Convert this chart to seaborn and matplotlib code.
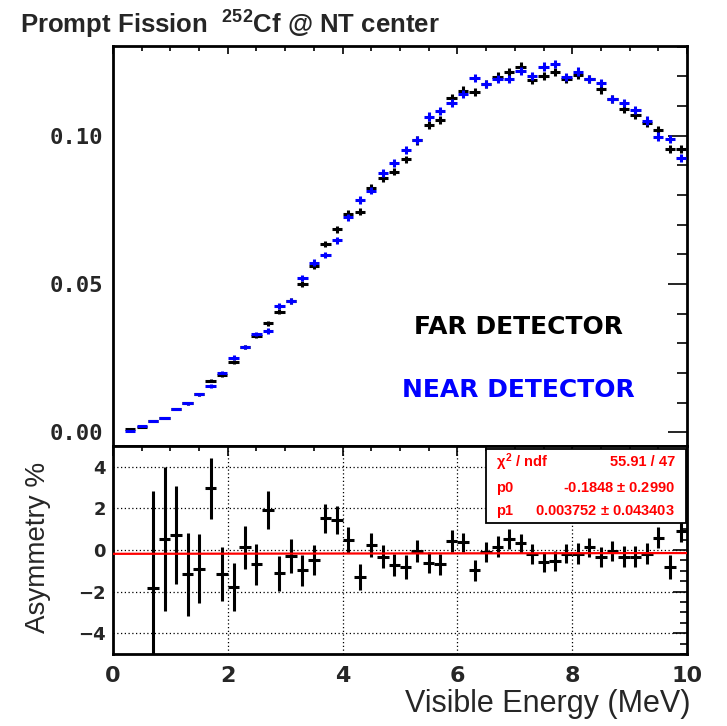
import numpy as np
import matplotlib
matplotlib.use("Agg")
import matplotlib.pyplot as plt
from matplotlib.ticker import MultipleLocator
import seaborn as sns

# ---- data -------------------------------------------------------------
energy = [0.3, 0.5, 0.7, 0.9, 1.1, 1.3, 1.5, 1.7, 1.9, 2.1,
          2.3, 2.5, 2.7, 2.9, 3.1, 3.3, 3.5, 3.7, 3.9, 4.1,
          4.3, 4.5, 4.7, 4.9, 5.1, 5.3, 5.5, 5.7, 5.9, 6.1,
          6.3, 6.5, 6.7, 6.9, 7.1, 7.3, 7.5, 7.7, 7.9, 8.1,
          8.3, 8.5, 8.7, 8.9, 9.1, 9.3, 9.5, 9.7, 9.9]

far_det = [0.0010, 0.0017, 0.0039, 0.0047, 0.0078, 0.0098, 0.0129, 0.0174, 0.0194, 0.0236,
           0.0288, 0.0325, 0.0367, 0.0407, 0.0444, 0.0500, 0.0562, 0.0634, 0.0685, 0.0737,
           0.0744, 0.0824, 0.0858, 0.0879, 0.0920, 0.0984, 0.1036, 0.1053, 0.1126, 0.1152,
           0.1146, 0.1174, 0.1199, 0.1214, 0.1233, 0.1188, 0.1202, 0.1214, 0.1190, 0.1205,
           0.1190, 0.1156, 0.1123, 0.1089, 0.1070, 0.1042, 0.1019, 0.0954, 0.0955]

near_det = [0.0005, 0.0022, 0.0039, 0.0047, 0.0078, 0.0098, 0.0129, 0.0156, 0.0201, 0.0252,
            0.0288, 0.0331, 0.0342, 0.0426, 0.0444, 0.0521, 0.0572, 0.0598, 0.0647, 0.0725,
            0.0783, 0.0815, 0.0873, 0.0908, 0.0952, 0.0986, 0.1064, 0.1083, 0.1109, 0.1140,
            0.1194, 0.1174, 0.1191, 0.1191, 0.1218, 0.1201, 0.1233, 0.1242, 0.1197, 0.1216,
            0.1190, 0.1177, 0.1123, 0.1111, 0.1087, 0.1051, 0.0997, 0.0988, 0.0924]

spec_err = [0.0001, 0.0002, 0.0003, 0.0003, 0.0004, 0.0005, 0.0005, 0.0006, 0.0006, 0.0007,
            0.0008, 0.0008, 0.0009, 0.0009, 0.0010, 0.0010, 0.0011, 0.0011, 0.0012, 0.0012,
            0.0012, 0.0013, 0.0013, 0.0013, 0.0013, 0.0014, 0.0014, 0.0014, 0.0014, 0.0014,
            0.0014, 0.0014, 0.0014, 0.0014, 0.0014, 0.0014, 0.0014, 0.0014, 0.0014, 0.0014,
            0.0014, 0.0014, 0.0014, 0.0014, 0.0014, 0.0014, 0.0014, 0.0014, 0.0014]

asym_energy = energy[2:]
asymmetry = [-1.85, 0.52, 0.72, -1.17, -0.90, 2.96, -1.17, -1.77, 0.12, -0.69,
             1.93, -1.12, -0.29, -0.98, -0.48, 1.53, 1.45, 0.48, -1.30, 0.24,
             -0.32, -0.72, -0.82, -0.05, -0.61, -0.69, 0.43, 0.36, -0.98, -0.10,
             0.16, 0.52, 0.32, -0.21, -0.59, -0.54, -0.17, -0.17, 0.12, -0.32,
             -0.05, -0.32, -0.32, -0.17, 0.60, -0.82, 0.92]
asym_err = [4.70, 3.45, 2.35, 1.99, 1.65, 1.45, 1.30, 1.15, 1.04, 0.98,
            0.92, 0.84, 0.83, 0.76, 0.74, 0.70, 0.67, 0.62, 0.64, 0.60,
            0.57, 0.54, 0.56, 0.52, 0.52, 0.52, 0.55, 0.48, 0.51, 0.50,
            0.50, 0.48, 0.46, 0.48, 0.48, 0.48, 0.46, 0.50, 0.46, 0.48,
            0.48, 0.50, 0.52, 0.51, 0.52, 0.56, 0.52]

# linear fit result
p0, p0_err = -0.1848, 0.2990
p1, p1_err = 0.003752, 0.043403
chi2, ndf = 55.91, 47
fit_x = [0.0, 10.0]

# ---- style ------------------------------------------------------------
sns.set_theme(style="white")
plt.rcParams["font.family"] = ["Liberation Sans", "DejaVu Sans"]
plt.rcParams["mathtext.fontset"] = "custom"
plt.rcParams["mathtext.rm"] = "Liberation Sans:bold"
plt.rcParams["mathtext.it"] = "Liberation Sans:bold"
plt.rcParams["mathtext.bf"] = "Liberation Sans:bold"

BLUE = "#0000ff"
RED = "#ff0000"

fig = plt.figure(figsize=(7.27, 7.26), dpi=100)
ax1 = fig.add_axes([0.1554, 0.3857, 0.7896, 0.5509])
ax2 = fig.add_axes([0.1554, 0.0992, 0.7896, 0.2865])

# ---- upper panel: spectra --------------------------------------------
ax1.errorbar(energy, far_det, yerr=spec_err, xerr=0.09, fmt="none",
             ecolor="black", elinewidth=2.2, capsize=0, zorder=3)
ax1.errorbar(energy, near_det, yerr=spec_err, xerr=0.09, fmt="none",
             ecolor=BLUE, elinewidth=2.2, capsize=0, zorder=4)
ax1.set_xlim(0, 10)
ax1.set_ylim(-0.0046, 0.1302)
ax1.xaxis.set_major_locator(MultipleLocator(2))
ax1.xaxis.set_minor_locator(MultipleLocator(0.5))
ax1.yaxis.set_major_locator(MultipleLocator(0.05))
ax1.yaxis.set_minor_locator(MultipleLocator(0.01))
ax1.set_xticklabels([])
ax1.tick_params(axis="both", which="both", direction="in", top=True, right=True,
                color="black", width=1.2)
ax1.tick_params(axis="x", which="major", length=6)
ax1.tick_params(axis="x", which="minor", length=3.5)
ax1.tick_params(axis="y", which="major", length=14, pad=7)
ax1.tick_params(axis="y", which="minor", length=7)
ax1.set_yticks([0.0, 0.05, 0.10])
ax1.set_yticklabels(["0.00", "0.05", "0.10"],
                    fontdict=dict(family="DejaVu Sans Mono", weight="bold", size=16))
ax1.set_xlabel("")
ax1.set_ylabel("")

ax1.text(0.7056, 0.2975, "FAR DETECTOR", transform=ax1.transAxes,
         ha="center", va="center", fontsize=18, fontweight="bold",
         family="DejaVu Sans", color="black")
ax1.text(0.7056, 0.140, "NEAR DETECTOR", transform=ax1.transAxes,
         ha="center", va="center", fontsize=18, fontweight="bold",
         family="DejaVu Sans", color=BLUE)

# ---- lower panel: asymmetry ------------------------------------------
ax2.set_xlim(0, 10)
ax2.set_ylim(-5, 5)
for gx in [2, 4, 6, 8]:
    ax2.axvline(gx, color="black", lw=0.9, ls=(0, (1, 2)), zorder=1)
for gy in [-4, -2, 0, 2, 4]:
    ax2.axhline(gy, color="black", lw=0.9, ls=(0, (1, 2)), zorder=1)

ax2.errorbar(asym_energy, asymmetry, yerr=asym_err, xerr=0.1, fmt="none",
             ecolor="black", elinewidth=2.2, capsize=0, zorder=3)

fit_y = [p0 + p1 * x for x in fit_x]
sns.lineplot(x=fit_x, y=fit_y, ax=ax2, color=RED, linewidth=1.6, zorder=4)

ax2.xaxis.set_major_locator(MultipleLocator(2))
ax2.xaxis.set_minor_locator(MultipleLocator(0.5))
ax2.yaxis.set_major_locator(MultipleLocator(2))
ax2.yaxis.set_minor_locator(MultipleLocator(0.5))
ax2.tick_params(axis="both", which="both", direction="in", top=True, right=True,
                color="black", width=1.2)
ax2.tick_params(axis="x", which="major", length=7, pad=9)
ax2.tick_params(axis="x", which="minor", length=3.5)
ax2.tick_params(axis="y", which="major", length=10, pad=5)
ax2.tick_params(axis="y", which="minor", length=5)
for lab in ax2.get_xticklabels():
    lab.set_fontfamily("DejaVu Sans")
    lab.set_fontweight("bold")
    lab.set_fontsize(16)
for lab in ax2.get_yticklabels():
    lab.set_fontfamily("DejaVu Sans")
    lab.set_fontweight("bold")
    lab.set_fontsize(13)
ax2.set_xlabel("")
ax2.set_ylabel("")

# fit statistics box
box = plt.Rectangle((0.650, 0.630), 0.348, 0.356, transform=ax2.transAxes,
                    facecolor="white", edgecolor="black", linewidth=1.3, zorder=6)
ax2.add_patch(box)
rows = [("$\\chi^{2}$ / ndf", f"{chi2:.2f} / {ndf}", 0.922),
        ("p0", f"{p0:.4f} $\\pm$ {p0_err:.4f}", 0.800),
        ("p1", f"{p1:.6f} $\\pm$ {p1_err:.6f}", 0.6875)]
for left, right, yy in rows:
    ax2.text(0.667, yy, left, transform=ax2.transAxes, ha="left", va="center",
             fontsize=10.5, fontweight="bold", color=RED, zorder=7)
    ax2.text(0.979, yy, right, transform=ax2.transAxes, ha="right", va="center",
             fontsize=10.5, fontweight="bold", color=RED, zorder=7)

for ax in (ax1, ax2):
    for sp in ax.spines.values():
        sp.set_visible(True)
        sp.set_color("black")
        sp.set_linewidth(2.0)

# ---- labels -----------------------------------------------------------
fig.text(0.0275, 0.9532, "Prompt Fission  $^{252}$Cf @ NT center",
         ha="left", va="baseline", fontsize=18.5, fontweight="bold")
fig.text(0.0516, 0.246, "Asymmetry %", rotation=90, ha="center", va="center",
         fontsize=20)
fig.text(0.950, 0.0193, "Visible Energy (MeV)", ha="right", va="baseline",
         fontsize=22)

fig.savefig("out.png", dpi=100)
